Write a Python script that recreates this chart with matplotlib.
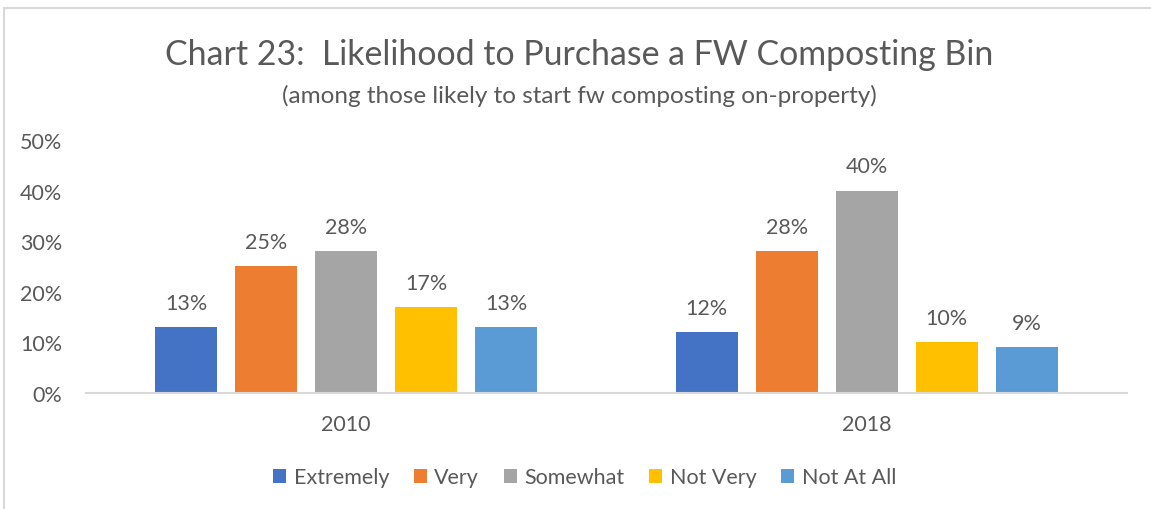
import numpy as np
import matplotlib.pyplot as plt
from matplotlib.patches import Rectangle

years = ['2010', '2018']
levels = ['Extremely', 'Very', 'Somewhat', 'Not Very', 'Not At All']
values = {
    'Extremely': [13, 12],
    'Very': [25, 28],
    'Somewhat': [28, 40],
    'Not Very': [17, 10],
    'Not At All': [13, 9],
}
colors = ['#4472C4', '#ED7D31', '#A5A5A5', '#FFC000', '#5B9BD5']

TXT = '#595959'
plt.rcParams['font.family'] = ['Lato', 'DejaVu Sans']

fig = plt.figure(figsize=(11.51, 5.10), dpi=100)
ax = fig.add_axes([0.0747, 0.2275, 0.9043, 0.496])

# frame around the chart area (runs off the right and bottom edges)
fig.patches.append(Rectangle((4 / 1151, -0.1), 1.2, 0.1 + (510 - 9) / 510,
                             transform=fig.transFigure, fill=False,
                             edgecolor='#D9D9D9', linewidth=1.5))

x = np.arange(len(years))
width = 0.119
step = 0.1537
for i, (lvl, col) in enumerate(zip(levels, colors)):
    pos = x + (i - 2) * step
    bars = ax.bar(pos, values[lvl], width, color=col, label=lvl)
    for b, v in zip(bars, values[lvl]):
        ax.text(b.get_x() + b.get_width() / 2, v + 2.8, f'{v}%',
                ha='center', va='bottom', fontsize=15.5, color=TXT)

ax.set_xlim(-0.5, 1.5)
ax.set_ylim(0, 50)
ax.set_yticks(range(0, 51, 10))
ax.set_yticklabels([f'{t}%' for t in range(0, 51, 10)])
ax.set_xticks(x)
ax.set_xticklabels(years)
ax.tick_params(axis='both', length=0, labelsize=15.5, labelcolor=TXT)
ax.tick_params(axis='y', pad=17)
ax.tick_params(axis='x', pad=15)
for s in ['top', 'right', 'left']:
    ax.spines[s].set_visible(False)
ax.spines['bottom'].set_color('#D9D9D9')
ax.spines['bottom'].set_linewidth(1.5)

fig.text(0.503, 0.893, 'Chart 23:  Likelihood to Purchase a FW Composting Bin',
         ha='center', va='center', fontsize=24.4, color=TXT)
fig.text(0.503, 0.812, '(among those likely to start fw composting on-property)',
         ha='center', va='center', fontsize=17.5, color=TXT)

fig.legend(loc='center', bbox_to_anchor=(0.508, 0.062), ncol=5, frameon=False,
           fontsize=15.5, labelcolor=TXT, handlelength=0.6, handleheight=0.6,
           handletextpad=0.35, columnspacing=1.15)

fig.savefig('out.png', dpi=100)
